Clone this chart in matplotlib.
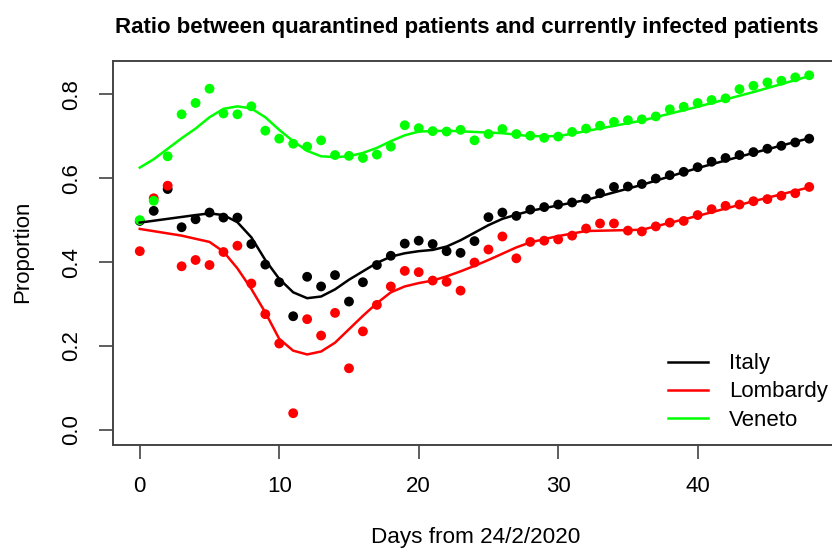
import numpy as np
import matplotlib
matplotlib.use("Agg")
import matplotlib.pyplot as plt

plt.rcParams['font.family'] = ['Liberation Sans', 'DejaVu Sans']

# observed daily ratios (day 0 = 24/2/2020)
days = np.arange(49)
italy = [0.498, 0.522, 0.574, 0.483, 0.502, 0.518, 0.506, 0.506, 0.443, 0.394,
         0.352, 0.271, 0.365, 0.342, 0.369, 0.306, 0.352, 0.393, 0.415, 0.444,
         0.451, 0.443, 0.426, 0.422, 0.450, 0.507, 0.518, 0.510, 0.525, 0.531,
         0.537, 0.542, 0.551, 0.564, 0.579, 0.580, 0.586, 0.599, 0.607, 0.615,
         0.626, 0.639, 0.648, 0.655, 0.662, 0.670, 0.677, 0.685, 0.694]
lombardy = [0.426, 0.552, 0.582, 0.390, 0.405, 0.393, 0.424, 0.439, 0.349, 0.276,
            0.206, 0.040, 0.264, 0.225, 0.279, 0.147, 0.235, 0.298, 0.342, 0.379,
            0.376, 0.356, 0.353, 0.332, 0.399, 0.430, 0.461, 0.409, 0.448, 0.451,
            0.454, 0.463, 0.480, 0.492, 0.492, 0.475, 0.473, 0.485, 0.494, 0.498,
            0.512, 0.526, 0.534, 0.537, 0.545, 0.550, 0.558, 0.564, 0.579]
veneto = [0.500, 0.546, 0.652, 0.752, 0.779, 0.813, 0.754, 0.752, 0.771, 0.713,
          0.694, 0.682, 0.675, 0.690, 0.655, 0.653, 0.648, 0.656, 0.675, 0.726,
          0.719, 0.712, 0.711, 0.715, 0.690, 0.705, 0.717, 0.705, 0.701, 0.696,
          0.699, 0.710, 0.718, 0.725, 0.734, 0.738, 0.740, 0.747, 0.764, 0.770,
          0.779, 0.786, 0.790, 0.812, 0.820, 0.828, 0.832, 0.840, 0.845]

# smoothed curves
italy_fit_days = [0, 2, 4, 5, 6, 7, 8, 9, 10, 11, 12, 13, 14, 15, 16, 17, 18, 19,
                  20, 21, 22, 23, 24, 25, 26, 27, 28, 32, 36, 40, 44, 48]
italy_fit = [0.494, 0.503, 0.512, 0.516, 0.512, 0.495, 0.459, 0.405, 0.360, 0.328,
             0.314, 0.318, 0.335, 0.358, 0.378, 0.398, 0.413, 0.421, 0.426, 0.429,
             0.437, 0.452, 0.470, 0.488, 0.503, 0.513, 0.522, 0.548, 0.584, 0.624,
             0.660, 0.695]
lomb_fit_days = [0, 3, 5, 6, 7, 8, 9, 10, 11, 12, 13, 14, 15, 16, 17, 18, 19, 20,
                 21, 22, 23, 24, 25, 26, 27, 28, 30, 32, 36, 40, 44, 48]
lomb_fit = [0.479, 0.463, 0.448, 0.425, 0.385, 0.336, 0.280, 0.217, 0.189, 0.180,
            0.187, 0.208, 0.240, 0.272, 0.302, 0.328, 0.342, 0.350, 0.356, 0.366,
            0.378, 0.391, 0.405, 0.420, 0.435, 0.447, 0.462, 0.474, 0.477, 0.510,
            0.545, 0.578]
ven_fit_days = [0, 1, 2, 3, 4, 5, 6, 7, 8, 9, 10, 11, 12, 13, 14, 15, 16, 17, 18,
                19, 20, 22, 24, 26, 28, 30, 32, 36, 40, 44, 48]
ven_fit = [0.625, 0.645, 0.670, 0.695, 0.718, 0.745, 0.765, 0.771, 0.766, 0.745,
           0.715, 0.688, 0.665, 0.652, 0.650, 0.652, 0.660, 0.672, 0.688, 0.702,
           0.711, 0.713, 0.710, 0.707, 0.700, 0.700, 0.712, 0.737, 0.770, 0.805,
           0.843]

labels = ["Italy", "Lombardy", "Veneto"]
colors = ["black", "#ff0000", "#00ff00"]

W, H = 832, 550
fig = plt.figure(figsize=(W / 100, H / 100), dpi=100)
# plot box runs past the right edge, as in the reference
left, right, top, bottom = 113, 836, 61, 445
ax = fig.add_axes([left / W, 1 - bottom / H, (right - left) / W, (bottom - top) / H])

series = [(italy, italy_fit_days, italy_fit),
          (lombardy, lomb_fit_days, lomb_fit),
          (veneto, ven_fit_days, ven_fit)]
for (pts, fd, fv), lab, c in zip(series, labels, colors):
    ax.scatter(days, pts, s=50, color=c, edgecolors='none', zorder=3)
    ax.plot(fd, fv, color=c, lw=1.8, label=lab, zorder=4)

ax.set_xlim(-1.92, 49.92)
ax.set_ylim(-0.0357, 0.879)
ax.set_xticks([0, 10, 20, 30, 40])
ax.set_yticks([0.0, 0.2, 0.4, 0.6, 0.8])
ax.set_yticklabels(["0.0", "0.2", "0.4", "0.6", "0.8"])
ax.tick_params(axis='both', labelsize=16, length=10, width=1.1, color='#333333', pad=12)
plt.setp(ax.get_yticklabels(), rotation=90, va='center')
for sp in ax.spines.values():
    sp.set_color('#444444')
    sp.set_linewidth(1.4)

fig.text(467 / W, 1 - 28 / H, "Ratio between quarantined patients and currently infected patients",
         ha='center', va='center', fontsize=16, fontweight='bold')
fig.text(476 / W, 1 - 538 / H, "Days from 24/2/2020", ha='center', va='center', fontsize=16.2)
fig.text(23 / W, 1 - 252 / H, "Proportion", ha='center', va='center', rotation=90, fontsize=16)

ax.legend(loc='center left', bbox_to_anchor=(668 / W, 1 - 392 / H),
          bbox_transform=fig.transFigure, frameon=False, fontsize=16,
          handlelength=1.8, handletextpad=0.95, labelspacing=0.32,
          borderpad=0, borderaxespad=0)

fig.savefig("out.png", dpi=100)
